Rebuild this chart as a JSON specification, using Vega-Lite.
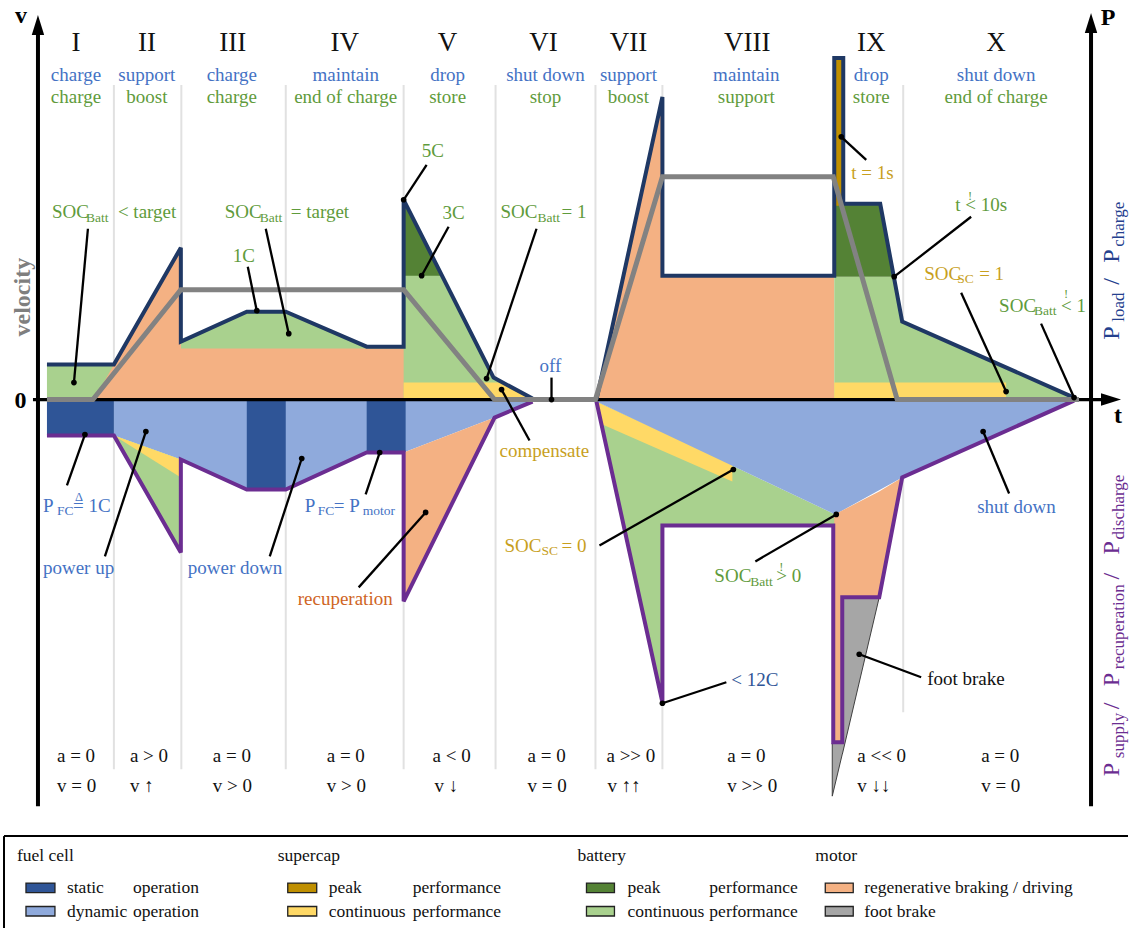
{
  "$schema": "https://vega.github.io/schema/vega-lite/v6.json",
  "width": 1129,
  "height": 929,
  "autosize": {"type": "fit", "contains": "padding"},
  "padding": 0,
  "background": "white",
  "config": {"view": {"stroke": null}, "font": "Liberation Serif", "text": {"font": "Liberation Serif"}},
  "datasets": {
    "fills": [
      {"id": "f01", "part": "batt_c", "t": 0.9, "p": 3.5, "p2": 0},
      {"id": "f01", "part": "batt_c", "t": 7.6, "p": 3.5, "p2": 0},
      {"id": "f02", "part": "batt_c", "t": 14.3, "p": 5.8, "p2": 4.8},
      {"id": "f02", "part": "batt_c", "t": 20.9, "p": 8.8, "p2": 4.8},
      {"id": "f02", "part": "batt_c", "t": 24.8, "p": 8.8, "p2": 4.8},
      {"id": "f02", "part": "batt_c", "t": 32.9, "p": 5.3, "p2": 4.8},
      {"id": "f02", "part": "batt_c", "t": 36.6, "p": 5.3, "p2": 4.8},
      {"id": "f03", "part": "motor", "t": 5.6, "p": 0, "p2": 0},
      {"id": "f03", "part": "motor", "t": 14.3, "p": 15.2, "p2": 0},
      {"id": "f03", "part": "motor", "t": 14.31, "p": 5.1, "p2": 0},
      {"id": "f03", "part": "motor", "t": 36.7, "p": 5.1, "p2": 0},
      {"id": "f04", "part": "batt_c", "t": 36.6, "p": 20.0, "p2": 0},
      {"id": "f04", "part": "batt_c", "t": 45.6, "p": 2.2, "p2": 0},
      {"id": "f04", "part": "batt_c", "t": 49.5, "p": 0, "p2": 0},
      {"id": "f05", "part": "sc_c", "t": 36.6, "p": 1.7, "p2": 0},
      {"id": "f05", "part": "sc_c", "t": 46.5, "p": 1.7, "p2": 0},
      {"id": "f05", "part": "sc_c", "t": 49.5, "p": 0, "p2": 0},
      {"id": "f06", "part": "batt_p", "t": 36.6, "p": 20.0, "p2": 12.4},
      {"id": "f06", "part": "batt_p", "t": 40.4, "p": 12.4, "p2": 12.4},
      {"id": "f07", "part": "motor", "t": 55.9, "p": 0, "p2": 0},
      {"id": "f07", "part": "motor", "t": 62.5, "p": 30.3, "p2": 0},
      {"id": "f07", "part": "motor", "t": 62.51, "p": 12.4, "p2": 0},
      {"id": "f07", "part": "motor", "t": 79.7, "p": 12.4, "p2": 0},
      {"id": "f08", "part": "batt_c", "t": 79.7, "p": 12.3, "p2": 0},
      {"id": "f08", "part": "batt_c", "t": 85.7, "p": 12.3, "p2": 0},
      {"id": "f08", "part": "batt_c", "t": 86.5, "p": 7.8, "p2": 0},
      {"id": "f08", "part": "batt_c", "t": 103.7, "p": 0.1, "p2": 0},
      {"id": "f09", "part": "sc_c", "t": 79.7, "p": 1.7, "p2": 0},
      {"id": "f09", "part": "sc_c", "t": 96.9, "p": 1.7, "p2": 0},
      {"id": "f10", "part": "batt_p", "t": 79.7, "p": 19.6, "p2": 12.3},
      {"id": "f10", "part": "batt_p", "t": 84.3, "p": 19.6, "p2": 12.3},
      {"id": "f10", "part": "batt_p", "t": 85.7, "p": 12.3, "p2": 12.3},
      {"id": "f11", "part": "sc_p", "t": 79.7, "p": 34.2, "p2": 19.4},
      {"id": "f11", "part": "sc_p", "t": 80.6, "p": 34.2, "p2": 19.4},
      {"id": "f12", "part": "fc_dyn", "t": 7.6, "p": -3.6, "p2": 0},
      {"id": "f12", "part": "fc_dyn", "t": 14.3, "p": -6.0, "p2": 0},
      {"id": "f12", "part": "fc_dyn", "t": 20.9, "p": -9.0, "p2": 0},
      {"id": "f12", "part": "fc_dyn", "t": 24.8, "p": -9.0, "p2": 0},
      {"id": "f12", "part": "fc_dyn", "t": 32.9, "p": -5.3, "p2": 0},
      {"id": "f12", "part": "fc_dyn", "t": 36.6, "p": -5.3, "p2": 0},
      {"id": "f12", "part": "fc_dyn", "t": 45.7, "p": -1.8, "p2": 0},
      {"id": "f12", "part": "fc_dyn", "t": 49.5, "p": -0.2, "p2": 0},
      {"id": "f13", "part": "fc_stat", "t": 0.9, "p": -3.6, "p2": 0},
      {"id": "f13", "part": "fc_stat", "t": 7.6, "p": -3.6, "p2": 0},
      {"id": "f14", "part": "fc_stat", "t": 20.9, "p": -9.0, "p2": 0},
      {"id": "f14", "part": "fc_stat", "t": 24.8, "p": -9.0, "p2": 0},
      {"id": "f15", "part": "fc_stat", "t": 32.9, "p": -5.3, "p2": 0},
      {"id": "f15", "part": "fc_stat", "t": 36.8, "p": -5.3, "p2": 0},
      {"id": "f16", "part": "batt_c", "t": 7.6, "p": -3.6, "p2": -3.6},
      {"id": "f16", "part": "batt_c", "t": 14.3, "p": -6.0, "p2": -15.3},
      {"id": "f17", "part": "sc_c", "t": 7.6, "p": -3.6, "p2": -3.6},
      {"id": "f17", "part": "sc_c", "t": 14.3, "p": -6.0, "p2": -7.8},
      {"id": "f18", "part": "motor", "t": 36.6, "p": -5.3, "p2": -20.2},
      {"id": "f18", "part": "motor", "t": 45.7, "p": -1.8, "p2": -1.8},
      {"id": "f19", "part": "batt_c", "t": 55.9, "p": -0.2, "p2": -0.2},
      {"id": "f19", "part": "batt_c", "t": 62.5, "p": -3.3, "p2": -30.3},
      {"id": "f19", "part": "batt_c", "t": 62.51, "p": -3.3, "p2": -12.6},
      {"id": "f19", "part": "batt_c", "t": 79.8, "p": -11.5, "p2": -12.6},
      {"id": "f20", "part": "sc_c", "t": 55.9, "p": -0.2, "p2": -0.2},
      {"id": "f20", "part": "sc_c", "t": 56.5, "p": -0.5, "p2": -2.5},
      {"id": "f20", "part": "sc_c", "t": 69.5, "p": -6.4, "p2": -8.2},
      {"id": "f21", "part": "fc_dyn", "t": 55.9, "p": 0, "p2": -0.2},
      {"id": "f21", "part": "fc_dyn", "t": 79.8, "p": 0, "p2": -11.5},
      {"id": "f21", "part": "fc_dyn", "t": 86.5, "p": 0, "p2": -7.8},
      {"id": "f21", "part": "fc_dyn", "t": 103.7, "p": 0, "p2": -0.1},
      {"id": "f22", "part": "motor", "t": 79.7, "p": -11.5, "p2": -34.3},
      {"id": "f22", "part": "motor", "t": 80.5, "p": -11.1, "p2": -34.3},
      {"id": "f22", "part": "motor", "t": 80.51, "p": -11.1, "p2": -19.8},
      {"id": "f22", "part": "motor", "t": 84.2, "p": -9.2, "p2": -19.8},
      {"id": "f22", "part": "motor", "t": 86.5, "p": -7.8, "p2": -7.8}
    ],
    "brake": [
      {"t": 79.5, "p": -34.4, "p2": -39.7},
      {"t": 80.5, "p": -34.4, "p2": -35.5},
      {"t": 80.51, "p": -19.8, "p2": -35.5},
      {"t": 84.2, "p": -19.8, "p2": -19.8}
    ],
    "outlines": [
      {"seg": "load1", "i": 1, "t": 0.9, "p": 3.5},
      {"seg": "load1", "i": 2, "t": 7.6, "p": 3.5},
      {"seg": "load1", "i": 3, "t": 14.3, "p": 15.2},
      {"seg": "load1", "i": 4, "t": 14.3, "p": 5.8},
      {"seg": "load1", "i": 5, "t": 20.9, "p": 8.8},
      {"seg": "load1", "i": 6, "t": 24.8, "p": 8.8},
      {"seg": "load1", "i": 7, "t": 32.9, "p": 5.3},
      {"seg": "load1", "i": 8, "t": 36.6, "p": 5.3},
      {"seg": "load1", "i": 9, "t": 36.6, "p": 20.0},
      {"seg": "load1", "i": 10, "t": 45.6, "p": 2.2},
      {"seg": "load1", "i": 11, "t": 49.5, "p": 0.1},
      {"seg": "load2", "i": 1, "t": 55.9, "p": 0},
      {"seg": "load2", "i": 2, "t": 62.5, "p": 30.3},
      {"seg": "load2", "i": 3, "t": 62.5, "p": 12.4},
      {"seg": "load2", "i": 4, "t": 79.7, "p": 12.4},
      {"seg": "load2", "i": 5, "t": 79.7, "p": 34.2},
      {"seg": "load2", "i": 6, "t": 80.6, "p": 34.2},
      {"seg": "load2", "i": 7, "t": 80.6, "p": 19.6},
      {"seg": "load2", "i": 8, "t": 84.3, "p": 19.6},
      {"seg": "load2", "i": 9, "t": 86.5, "p": 7.8},
      {"seg": "load2", "i": 10, "t": 103.7, "p": 0.2},
      {"seg": "supply1", "i": 1, "t": 0.9, "p": -3.6},
      {"seg": "supply1", "i": 2, "t": 7.6, "p": -3.6},
      {"seg": "supply1", "i": 3, "t": 14.3, "p": -15.3},
      {"seg": "supply1", "i": 4, "t": 14.3, "p": -6.0},
      {"seg": "supply1", "i": 5, "t": 20.9, "p": -9.0},
      {"seg": "supply1", "i": 6, "t": 24.8, "p": -9.0},
      {"seg": "supply1", "i": 7, "t": 32.9, "p": -5.3},
      {"seg": "supply1", "i": 8, "t": 36.6, "p": -5.3},
      {"seg": "supply1", "i": 9, "t": 36.6, "p": -20.2},
      {"seg": "supply1", "i": 10, "t": 45.7, "p": -1.8},
      {"seg": "supply1", "i": 11, "t": 49.5, "p": -0.2},
      {"seg": "supply2", "i": 1, "t": 55.9, "p": -0.2},
      {"seg": "supply2", "i": 2, "t": 62.5, "p": -30.3},
      {"seg": "supply2", "i": 3, "t": 62.5, "p": -12.6},
      {"seg": "supply2", "i": 4, "t": 79.6, "p": -12.6},
      {"seg": "supply2", "i": 5, "t": 79.6, "p": -34.3},
      {"seg": "supply2", "i": 6, "t": 80.5, "p": -34.3},
      {"seg": "supply2", "i": 7, "t": 80.5, "p": -19.8},
      {"seg": "supply2", "i": 8, "t": 84.2, "p": -19.8},
      {"seg": "supply2", "i": 9, "t": 86.5, "p": -7.8},
      {"seg": "supply2", "i": 10, "t": 103.7, "p": -0.1}
    ],
    "velocity": [
      {"i": 1, "t": 0.9, "p": 0},
      {"i": 2, "t": 5.5, "p": 0},
      {"i": 3, "t": 14.3, "p": 11.0},
      {"i": 4, "t": 36.6, "p": 11.0},
      {"i": 5, "t": 45.7, "p": 0},
      {"i": 6, "t": 55.8, "p": 0},
      {"i": 7, "t": 62.5, "p": 22.3},
      {"i": 8, "t": 79.6, "p": 22.3},
      {"i": 9, "t": 86.0, "p": 0},
      {"i": 10, "t": 104.2, "p": 0}
    ],
    "dividers": [
      {"t": 7.6, "p": 31.5, "p2": -37.0},
      {"t": 14.35, "p": 31.5, "p2": -37.0},
      {"t": 24.8, "p": 31.5, "p2": -37.0},
      {"t": 36.6, "p": 31.5, "p2": -37.0},
      {"t": 45.8, "p": 31.5, "p2": -37.0},
      {"t": 55.8, "p": 31.5, "p2": -37.0},
      {"t": 62.5, "p": 31.5, "p2": -37.0},
      {"t": 86.6, "p": 31.5, "p2": -31.3}
    ],
    "rules": [
      {"kind": "axis", "t": 0, "p": 36.6, "t2": 0, "p2": -40.7},
      {"kind": "axis", "t": 105.4, "p": 36.8, "t2": 105.4, "p2": -40.7},
      {"kind": "zero", "t": -0.5, "p": 0, "t2": 106.8, "p2": 0},
      {"kind": "box", "t": -3.4, "p": -43.7, "t2": 109.1, "p2": -43.7},
      {"kind": "box", "t": -3.4, "p": -43.7, "t2": -3.4, "p2": -52.9}
    ],
    "arrows": [
      {"dir": "up", "t": 0, "p": 37.5},
      {"dir": "up", "t": 105.4, "p": 37.7},
      {"dir": "right", "t": 107.4, "p": 0}
    ],
    "leaders": [
      {"id": "L01", "i": 0, "t": 5.0, "p": 17.1}, {"id": "L01", "i": 1, "t": 3.6, "p": 1.7},
      {"id": "L02", "i": 0, "t": 22.8, "p": 17.1}, {"id": "L02", "i": 1, "t": 25.1, "p": 6.6},
      {"id": "L03", "i": 0, "t": 21.0, "p": 13.3}, {"id": "L03", "i": 1, "t": 21.9, "p": 8.9},
      {"id": "L04", "i": 0, "t": 38.9, "p": 23.5}, {"id": "L04", "i": 1, "t": 36.6, "p": 20.0},
      {"id": "L05", "i": 0, "t": 41.1, "p": 17.3}, {"id": "L05", "i": 1, "t": 38.4, "p": 12.4},
      {"id": "L06", "i": 0, "t": 49.9, "p": 17.1}, {"id": "L06", "i": 1, "t": 44.9, "p": 2.1},
      {"id": "L07", "i": 0, "t": 51.4, "p": 2.2}, {"id": "L07", "i": 1, "t": 51.4, "p": 0},
      {"id": "L08", "i": 0, "t": 49.2, "p": -4.1}, {"id": "L08", "i": 1, "t": 46.4, "p": 1.0},
      {"id": "L09", "i": 0, "t": 82.9, "p": 24.0}, {"id": "L09", "i": 1, "t": 80.4, "p": 26.3},
      {"id": "L10", "i": 0, "t": 93.4, "p": 18.3}, {"id": "L10", "i": 1, "t": 85.7, "p": 12.3},
      {"id": "L11", "i": 0, "t": 92.4, "p": 10.7}, {"id": "L11", "i": 1, "t": 96.9, "p": 0.8},
      {"id": "L12", "i": 0, "t": 100.4, "p": 7.6}, {"id": "L12", "i": 1, "t": 103.7, "p": 0.2},
      {"id": "L13", "i": 0, "t": 2.9, "p": -8.6}, {"id": "L13", "i": 1, "t": 4.7, "p": -3.5},
      {"id": "L14", "i": 0, "t": 6.7, "p": -15.7}, {"id": "L14", "i": 1, "t": 10.8, "p": -3.2},
      {"id": "L15", "i": 0, "t": 23.2, "p": -15.7}, {"id": "L15", "i": 1, "t": 26.4, "p": -5.9},
      {"id": "L16", "i": 0, "t": 32.8, "p": -9.5}, {"id": "L16", "i": 1, "t": 34.2, "p": -5.3},
      {"id": "L17", "i": 0, "t": 32.1, "p": -18.8}, {"id": "L17", "i": 1, "t": 38.8, "p": -11.3},
      {"id": "L18", "i": 0, "t": 56.2, "p": -14.6}, {"id": "L18", "i": 1, "t": 69.6, "p": -7.0},
      {"id": "L19", "i": 0, "t": 68.9, "p": -28.3}, {"id": "L19", "i": 1, "t": 62.5, "p": -30.4},
      {"id": "L20", "i": 0, "t": 71.8, "p": -16.2}, {"id": "L20", "i": 1, "t": 79.9, "p": -11.5},
      {"id": "L21", "i": 0, "t": 88.4, "p": -27.8}, {"id": "L21", "i": 1, "t": 82.2, "p": -25.5},
      {"id": "L22", "i": 0, "t": 97.2, "p": -9.4}, {"id": "L22", "i": 1, "t": 94.6, "p": -3.2}
    ],
    "swatches": [
      {"part": "fc_stat", "t": -1.2, "t2": 1.7, "p": -48.4, "p2": -49.35},
      {"part": "fc_dyn", "t": -1.2, "t2": 1.7, "p": -50.75, "p2": -51.7},
      {"part": "sc_p", "t": 25.0, "t2": 27.9, "p": -48.4, "p2": -49.35},
      {"part": "sc_c", "t": 25.0, "t2": 27.9, "p": -50.75, "p2": -51.7},
      {"part": "batt_p", "t": 54.9, "t2": 57.7, "p": -48.4, "p2": -49.35},
      {"part": "batt_c", "t": 54.9, "t2": 57.7, "p": -50.75, "p2": -51.7},
      {"part": "motor", "t": 78.8, "t2": 81.6, "p": -48.4, "p2": -49.35},
      {"part": "brake", "t": 78.8, "t2": 81.6, "p": -50.75, "p2": -51.7}
    ],
    "labels": [
      {"kind": "roman", "tone": "black", "text": "I", "t": 3.8, "p": 34.9},
      {"kind": "roman", "tone": "black", "text": "II", "t": 10.9, "p": 34.9},
      {"kind": "roman", "tone": "black", "text": "III", "t": 19.5, "p": 34.9},
      {"kind": "roman", "tone": "black", "text": "IV", "t": 30.7, "p": 34.9},
      {"kind": "roman", "tone": "black", "text": "V", "t": 41.0, "p": 34.9},
      {"kind": "roman", "tone": "black", "text": "VI", "t": 50.6, "p": 34.9},
      {"kind": "roman", "tone": "black", "text": "VII", "t": 59.1, "p": 34.9},
      {"kind": "roman", "tone": "black", "text": "VIII", "t": 71.0, "p": 34.9},
      {"kind": "roman", "tone": "black", "text": "IX", "t": 83.4, "p": 34.9},
      {"kind": "roman", "tone": "black", "text": "X", "t": 95.9, "p": 34.9},

      {"kind": "head", "tone": "blue", "text": "charge", "t": 3.8, "p": 31.9},
      {"kind": "head", "tone": "blue", "text": "support", "t": 10.9, "p": 31.9},
      {"kind": "head", "tone": "blue", "text": "charge", "t": 19.4, "p": 31.9},
      {"kind": "head", "tone": "blue", "text": "maintain", "t": 30.8, "p": 31.9},
      {"kind": "head", "tone": "blue", "text": "drop", "t": 41.0, "p": 31.9},
      {"kind": "head", "tone": "blue", "text": "shut down", "t": 50.8, "p": 31.9},
      {"kind": "head", "tone": "blue", "text": "support", "t": 59.1, "p": 31.9},
      {"kind": "head", "tone": "blue", "text": "maintain", "t": 70.9, "p": 31.9},
      {"kind": "head", "tone": "blue", "text": "drop", "t": 83.4, "p": 31.9},
      {"kind": "head", "tone": "blue", "text": "shut down", "t": 95.9, "p": 31.9},
      {"kind": "head", "tone": "green", "text": "charge", "t": 3.8, "p": 29.7},
      {"kind": "head", "tone": "green", "text": "boost", "t": 10.9, "p": 29.7},
      {"kind": "head", "tone": "green", "text": "charge", "t": 19.4, "p": 29.7},
      {"kind": "head", "tone": "green", "text": "end of charge", "t": 30.8, "p": 29.7},
      {"kind": "head", "tone": "green", "text": "store", "t": 41.0, "p": 29.7},
      {"kind": "head", "tone": "green", "text": "stop", "t": 50.8, "p": 29.7},
      {"kind": "head", "tone": "green", "text": "boost", "t": 59.1, "p": 29.7},
      {"kind": "head", "tone": "green", "text": "support", "t": 70.9, "p": 29.7},
      {"kind": "head", "tone": "green", "text": "store", "t": 83.4, "p": 29.7},
      {"kind": "head", "tone": "green", "text": "end of charge", "t": 95.9, "p": 29.7},

      {"kind": "cond", "tone": "black", "text": "a = 0", "t": 1.9, "p": -36.3},
      {"kind": "cond", "tone": "black", "text": "a > 0", "t": 9.2, "p": -36.3},
      {"kind": "cond", "tone": "black", "text": "a = 0", "t": 17.5, "p": -36.3},
      {"kind": "cond", "tone": "black", "text": "a = 0", "t": 28.9, "p": -36.3},
      {"kind": "cond", "tone": "black", "text": "a < 0", "t": 39.5, "p": -36.3},
      {"kind": "cond", "tone": "black", "text": "a = 0", "t": 49.0, "p": -36.3},
      {"kind": "cond", "tone": "black", "text": "a >> 0", "t": 56.9, "p": -36.3},
      {"kind": "cond", "tone": "black", "text": "a  =  0", "t": 69.0, "p": -36.3},
      {"kind": "cond", "tone": "black", "text": "a << 0", "t": 82.0, "p": -36.3},
      {"kind": "cond", "tone": "black", "text": "a = 0", "t": 94.4, "p": -36.3},
      {"kind": "cond", "tone": "black", "text": "v = 0", "t": 1.9, "p": -39.3},
      {"kind": "cond", "tone": "black", "text": "v ↑", "t": 9.2, "p": -39.3},
      {"kind": "cond", "tone": "black", "text": "v > 0", "t": 17.5, "p": -39.3},
      {"kind": "cond", "tone": "black", "text": "v > 0", "t": 28.9, "p": -39.3},
      {"kind": "cond", "tone": "black", "text": "v ↓", "t": 39.7, "p": -39.3},
      {"kind": "cond", "tone": "black", "text": "v = 0", "t": 49.0, "p": -39.3},
      {"kind": "cond", "tone": "black", "text": "v ↑↑", "t": 57.0, "p": -39.3},
      {"kind": "cond", "tone": "black", "text": "v >> 0", "t": 69.0, "p": -39.3},
      {"kind": "cond", "tone": "black", "text": "v ↓↓", "t": 82.0, "p": -39.3},
      {"kind": "cond", "tone": "black", "text": "v = 0", "t": 94.4, "p": -39.3},

      {"kind": "ann", "tone": "green", "text": "SOC", "t": 1.4, "p": 18.2},
      {"kind": "sub", "tone": "green", "text": "Batt", "t": 4.8, "p": 17.8},
      {"kind": "ann", "tone": "green", "text": "< target", "t": 8.0, "p": 18.2},
      {"kind": "ann", "tone": "green", "text": "SOC", "t": 18.7, "p": 18.2},
      {"kind": "sub", "tone": "green", "text": "Batt", "t": 22.2, "p": 17.8},
      {"kind": "ann", "tone": "green", "text": "= target", "t": 25.3, "p": 18.2},
      {"kind": "ann", "tone": "green", "text": "1C", "t": 19.5, "p": 13.8},
      {"kind": "ann", "tone": "green", "text": "5C", "t": 38.4, "p": 24.3},
      {"kind": "ann", "tone": "green", "text": "3C", "t": 40.5, "p": 18.1},
      {"kind": "ann", "tone": "green", "text": "SOC", "t": 46.3, "p": 18.2},
      {"kind": "sub", "tone": "green", "text": "Batt", "t": 50.0, "p": 17.8},
      {"kind": "ann", "tone": "green", "text": "= 1", "t": 52.4, "p": 18.2},
      {"kind": "ann", "tone": "blue", "text": "off", "t": 50.2, "p": 2.8},
      {"kind": "ann", "tone": "gold", "text": "compensate", "t": 46.2, "p": -5.7},
      {"kind": "ann", "tone": "gold", "text": "t = 1s", "t": 81.4, "p": 22.1},
      {"kind": "ann", "tone": "green", "text": "t < 10s", "t": 91.8, "p": 18.9},
      {"kind": "bang", "tone": "green", "text": "!", "t": 93.3, "p": 20.0},
      {"kind": "ann", "tone": "gold", "text": "SOC", "t": 88.7, "p": 12.0},
      {"kind": "sub", "tone": "gold", "text": "SC", "t": 92.0, "p": 11.7},
      {"kind": "ann", "tone": "gold", "text": "= 1", "t": 94.2, "p": 12.0},
      {"kind": "ann", "tone": "green", "text": "SOC", "t": 96.2, "p": 8.8},
      {"kind": "sub", "tone": "green", "text": "Batt", "t": 99.7, "p": 8.5},
      {"kind": "ann", "tone": "green", "text": "< 1", "t": 102.4, "p": 8.8},
      {"kind": "bang", "tone": "green", "text": "!", "t": 102.9, "p": 10.2},
      {"kind": "ann", "tone": "blue", "text": "P", "t": 0.5, "p": -11.3},
      {"kind": "sub", "tone": "blue", "text": "FC", "t": 1.9, "p": -11.6},
      {"kind": "ann", "tone": "blue", "text": "= 1C", "t": 3.5, "p": -11.3},
      {"kind": "bang", "tone": "blue", "text": "Δ", "t": 4.1, "p": -10.2},
      {"kind": "ann", "tone": "blue", "text": "power up", "t": 0.5, "p": -17.5},
      {"kind": "ann", "tone": "blue", "text": "power down", "t": 15.0, "p": -17.5},
      {"kind": "ann", "tone": "blue", "text": "P", "t": 26.7, "p": -11.3},
      {"kind": "sub", "tone": "blue", "text": "FC", "t": 28.0, "p": -11.6},
      {"kind": "ann", "tone": "blue", "text": "= P", "t": 29.6, "p": -11.3},
      {"kind": "sub", "tone": "blue", "text": "motor", "t": 32.5, "p": -11.6},
      {"kind": "ann", "tone": "orange", "text": "recuperation", "t": 26.0, "p": -20.6},
      {"kind": "ann", "tone": "gold", "text": "SOC", "t": 46.7, "p": -15.3},
      {"kind": "sub", "tone": "gold", "text": "SC", "t": 50.4, "p": -15.6},
      {"kind": "ann", "tone": "gold", "text": "= 0", "t": 52.4, "p": -15.3},
      {"kind": "ann", "tone": "navy", "text": "< 12C", "t": 69.4, "p": -28.7},
      {"kind": "ann", "tone": "green", "text": "SOC", "t": 67.7, "p": -18.3},
      {"kind": "sub", "tone": "green", "text": "Batt", "t": 71.3, "p": -18.7},
      {"kind": "ann", "tone": "green", "text": "> 0", "t": 73.9, "p": -18.3},
      {"kind": "bang", "tone": "green", "text": "!", "t": 74.4, "p": -17.2},
      {"kind": "ann", "tone": "black", "text": "foot brake", "t": 89.0, "p": -28.6},
      {"kind": "ann", "tone": "blue", "text": "shut down", "t": 94.0, "p": -11.4},

      {"kind": "axisb", "tone": "black", "text": "v", "t": -1.7, "p": 37.7},
      {"kind": "axisb", "tone": "black", "text": "0", "t": -1.75, "p": -0.8},
      {"kind": "axisb", "tone": "black", "text": "P", "t": 107.1, "p": 37.5},
      {"kind": "axisb", "tone": "black", "text": "t", "t": 108.1, "p": -2.3},
      {"kind": "vel", "tone": "gray", "text": "velocity", "t": -0.8, "p": 10.25},

      {"kind": "rmain", "tone": "pnavy", "text": "P", "t": 108.2, "p": 6.0},
      {"kind": "rsub", "tone": "pnavy", "text": "load", "t": 108.7, "p": 7.8},
      {"kind": "rmain", "tone": "pnavy", "text": "/", "t": 108.2, "p": 11.5},
      {"kind": "rmain", "tone": "pnavy", "text": "P", "t": 108.2, "p": 13.7},
      {"kind": "rsub", "tone": "pnavy", "text": "charge", "t": 108.7, "p": 15.3},
      {"kind": "rmain", "tone": "purple", "text": "P", "t": 108.2, "p": -37.7},
      {"kind": "rsub", "tone": "purple", "text": "supply", "t": 108.7, "p": -35.9},
      {"kind": "rmain", "tone": "purple", "text": "/", "t": 108.2, "p": -31.0},
      {"kind": "rmain", "tone": "purple", "text": "P", "t": 108.2, "p": -28.7},
      {"kind": "rsub", "tone": "purple", "text": "recuperation", "t": 108.7, "p": -27.0},
      {"kind": "rmain", "tone": "purple", "text": "/", "t": 108.2, "p": -18.0},
      {"kind": "rmain", "tone": "purple", "text": "P", "t": 108.2, "p": -15.5},
      {"kind": "rsub", "tone": "purple", "text": "discharge", "t": 108.7, "p": -14.0},

      {"kind": "lg", "tone": "black", "text": "fuel cell", "t": -2.1, "p": -46.2},
      {"kind": "lg", "tone": "black", "text": "supercap", "t": 24.0, "p": -46.2},
      {"kind": "lg", "tone": "black", "text": "battery", "t": 54.0, "p": -46.2},
      {"kind": "lg", "tone": "black", "text": "motor", "t": 77.8, "p": -46.2},
      {"kind": "lg", "tone": "black", "text": "static", "t": 2.9, "p": -49.4},
      {"kind": "lg", "tone": "black", "text": "operation", "t": 9.5, "p": -49.4},
      {"kind": "lg", "tone": "black", "text": "dynamic", "t": 2.9, "p": -51.75},
      {"kind": "lg", "tone": "black", "text": "operation", "t": 9.5, "p": -51.75},
      {"kind": "lg", "tone": "black", "text": "peak", "t": 29.1, "p": -49.4},
      {"kind": "lg", "tone": "black", "text": "performance", "t": 37.5, "p": -49.4},
      {"kind": "lg", "tone": "black", "text": "continuous", "t": 29.1, "p": -51.75},
      {"kind": "lg", "tone": "black", "text": "performance", "t": 37.5, "p": -51.75},
      {"kind": "lg", "tone": "black", "text": "peak", "t": 59.0, "p": -49.4},
      {"kind": "lg", "tone": "black", "text": "performance", "t": 67.2, "p": -49.4},
      {"kind": "lg", "tone": "black", "text": "continuous", "t": 59.0, "p": -51.75},
      {"kind": "lg", "tone": "black", "text": "performance", "t": 67.2, "p": -51.75},
      {"kind": "lg", "tone": "black", "text": "regenerative braking / driving", "t": 82.7, "p": -49.4},
      {"kind": "lg", "tone": "black", "text": "foot brake", "t": 82.7, "p": -51.75}
    ]
  },
  "encoding": {
    "x": {"field": "t", "type": "quantitative", "axis": null, "scale": {"domain": [-3.8, 109.1], "nice": false, "zero": false}},
    "y": {"field": "p", "type": "quantitative", "axis": null, "stack": null, "scale": {"domain": [-52.9, 40.0], "nice": false, "zero": false}}
  },
  "resolve": {"scale": {"color": "independent"}},
  "layer": [
    {
      "data": {"name": "dividers"},
      "mark": {"type": "rule", "color": "#e1e1e1", "strokeWidth": 2},
      "encoding": {"y2": {"field": "p2"}}
    },
    {
      "data": {"name": "fills"},
      "mark": {"type": "area", "opacity": 1, "interpolate": "linear"},
      "encoding": {
        "y2": {"field": "p2"},
        "detail": {"field": "id"},
        "color": {"field": "part", "type": "nominal", "legend": null,
          "scale": {"domain": ["fc_stat", "fc_dyn", "sc_p", "sc_c", "batt_p", "batt_c", "motor", "brake"],
                    "range": ["#2f5597", "#8faadc", "#bf8f00", "#ffd966", "#548235", "#a9d18e", "#f4b183", "#a6a6a6"]}}
      }
    },
    {
      "data": {"name": "brake"},
      "mark": {"type": "area", "opacity": 1, "color": "#a6a6a6", "stroke": "#404040", "strokeWidth": 1},
      "encoding": {"y2": {"field": "p2"}}
    },
    {
      "data": {"name": "rules"},
      "transform": [{"filter": "datum.kind === 'zero'"}],
      "mark": {"type": "rule", "color": "#000000", "strokeWidth": 3.2},
      "encoding": {"x2": {"field": "t2"}, "y2": {"field": "p2"}}
    },
    {
      "data": {"name": "outlines"},
      "mark": {"type": "line", "strokeWidth": 4, "strokeJoin": "miter", "strokeMiterLimit": 3},
      "encoding": {
        "detail": {"field": "seg"},
        "order": {"field": "i", "type": "quantitative"},
        "color": {"field": "seg", "type": "nominal", "legend": null,
          "scale": {"domain": ["load1", "load2", "supply1", "supply2"], "range": ["#1f3864", "#1f3864", "#6b2d91", "#6b2d91"]}}
      }
    },
    {
      "data": {"name": "velocity"},
      "mark": {"type": "line", "color": "#828282", "strokeWidth": 5, "strokeJoin": "miter"},
      "encoding": {"order": {"field": "i", "type": "quantitative"}}
    },
    {
      "data": {"name": "rules"},
      "transform": [{"filter": "datum.kind === 'axis'"}],
      "mark": {"type": "rule", "color": "#000000", "strokeWidth": 4},
      "encoding": {"x2": {"field": "t2"}, "y2": {"field": "p2"}}
    },
    {
      "data": {"name": "arrows"},
      "transform": [{"filter": "datum.dir === 'up'"}],
      "mark": {"type": "point", "shape": "M0,-1L0.62,1L-0.62,1Z", "size": 400, "filled": true, "color": "#000000", "opacity": 1}
    },
    {
      "data": {"name": "arrows"},
      "transform": [{"filter": "datum.dir === 'right'"}],
      "mark": {"type": "point", "shape": "M1,0L-1,-0.62L-1,0.62Z", "size": 400, "filled": true, "color": "#000000", "opacity": 1}
    },
    {
      "data": {"name": "leaders"},
      "mark": {"type": "line", "color": "#000000", "strokeWidth": 2.3},
      "encoding": {
        "detail": {"field": "id"},
        "order": {"field": "i", "type": "quantitative"}
      }
    },
    {
      "data": {"name": "leaders"},
      "transform": [{"filter": "datum.i === 1"}],
      "mark": {"type": "point", "filled": true, "color": "#000000", "opacity": 1, "size": 32, "shape": "circle"}
    },
    {
      "data": {"name": "labels"},
      "transform": [{"filter": "datum.kind === 'roman'"}],
      "mark": {"type": "text", "font": "Liberation Serif", "fontSize": 27, "align": "center", "baseline": "alphabetic", "color": "#111111"},
      "encoding": {"text": {"field": "text"}}
    },
    {
      "data": {"name": "labels"},
      "transform": [{"filter": "datum.kind === 'head'"}],
      "mark": {"type": "text", "font": "Liberation Serif", "fontSize": 19, "align": "center", "baseline": "alphabetic"},
      "encoding": {
        "text": {"field": "text"},
        "color": {"field": "tone", "type": "nominal", "legend": null,
          "scale": {"domain": ["blue", "green", "gold", "orange", "navy", "black", "gray", "purple", "pnavy"],
                    "range": ["#4472c4", "#5f9b3c", "#c89f1e", "#cf651f", "#2f5597", "#111111", "#7f7f7f", "#6b2d91", "#24408e"]}}
      }
    },
    {
      "data": {"name": "labels"},
      "transform": [{"filter": "datum.kind === 'cond'"}],
      "mark": {"type": "text", "font": "Liberation Serif", "fontSize": 19, "align": "left", "baseline": "alphabetic", "color": "#111111"},
      "encoding": {"text": {"field": "text"}}
    },
    {
      "data": {"name": "labels"},
      "transform": [{"filter": "datum.kind === 'ann'"}],
      "mark": {"type": "text", "font": "Liberation Serif", "fontSize": 19, "align": "left", "baseline": "alphabetic"},
      "encoding": {
        "text": {"field": "text"},
        "color": {"field": "tone", "type": "nominal", "legend": null,
          "scale": {"domain": ["blue", "green", "gold", "orange", "navy", "black", "gray", "purple", "pnavy"],
                    "range": ["#4472c4", "#5f9b3c", "#c89f1e", "#cf651f", "#2f5597", "#111111", "#7f7f7f", "#6b2d91", "#24408e"]}}
      }
    },
    {
      "data": {"name": "labels"},
      "transform": [{"filter": "datum.kind === 'sub'"}],
      "mark": {"type": "text", "font": "Liberation Serif", "fontSize": 13.5, "align": "left", "baseline": "alphabetic"},
      "encoding": {
        "text": {"field": "text"},
        "color": {"field": "tone", "type": "nominal", "legend": null,
          "scale": {"domain": ["blue", "green", "gold", "orange", "navy", "black", "gray", "purple", "pnavy"],
                    "range": ["#4472c4", "#5f9b3c", "#c89f1e", "#cf651f", "#2f5597", "#111111", "#7f7f7f", "#6b2d91", "#24408e"]}}
      }
    },
    {
      "data": {"name": "labels"},
      "transform": [{"filter": "datum.kind === 'bang'"}],
      "mark": {"type": "text", "font": "Liberation Serif", "fontSize": 12.5, "align": "center", "baseline": "alphabetic"},
      "encoding": {
        "text": {"field": "text"},
        "color": {"field": "tone", "type": "nominal", "legend": null,
          "scale": {"domain": ["blue", "green", "gold", "orange", "navy", "black", "gray", "purple", "pnavy"],
                    "range": ["#4472c4", "#5f9b3c", "#c89f1e", "#cf651f", "#2f5597", "#111111", "#7f7f7f", "#6b2d91", "#24408e"]}}
      }
    },
    {
      "data": {"name": "labels"},
      "transform": [{"filter": "datum.kind === 'axisb'"}],
      "mark": {"type": "text", "font": "Liberation Serif", "fontSize": 24, "fontWeight": "bold", "align": "center", "baseline": "alphabetic", "color": "#000000"},
      "encoding": {"text": {"field": "text"}}
    },
    {
      "data": {"name": "labels"},
      "transform": [{"filter": "datum.kind === 'vel'"}],
      "mark": {"type": "text", "font": "Liberation Serif", "fontSize": 24, "fontWeight": "bold", "align": "center", "baseline": "alphabetic", "angle": 270, "color": "#7f7f7f"},
      "encoding": {"text": {"field": "text"}}
    },
    {
      "data": {"name": "labels"},
      "transform": [{"filter": "datum.kind === 'rmain'"}],
      "mark": {"type": "text", "font": "Liberation Serif", "fontSize": 24, "align": "left", "baseline": "alphabetic", "angle": 270},
      "encoding": {
        "text": {"field": "text"},
        "color": {"field": "tone", "type": "nominal", "legend": null,
          "scale": {"domain": ["purple", "pnavy"], "range": ["#6b2d91", "#24408e"]}}
      }
    },
    {
      "data": {"name": "labels"},
      "transform": [{"filter": "datum.kind === 'rsub'"}],
      "mark": {"type": "text", "font": "Liberation Serif", "fontSize": 17, "align": "left", "baseline": "alphabetic", "angle": 270},
      "encoding": {
        "text": {"field": "text"},
        "color": {"field": "tone", "type": "nominal", "legend": null,
          "scale": {"domain": ["purple", "pnavy"], "range": ["#6b2d91", "#24408e"]}}
      }
    },
    {
      "data": {"name": "rules"},
      "transform": [{"filter": "datum.kind === 'box'"}],
      "mark": {"type": "rule", "color": "#000000", "strokeWidth": 2},
      "encoding": {"x2": {"field": "t2"}, "y2": {"field": "p2"}}
    },
    {
      "data": {"name": "swatches"},
      "mark": {"type": "rect", "opacity": 1, "stroke": "#222222", "strokeWidth": 1.3},
      "encoding": {
        "x2": {"field": "t2"},
        "y2": {"field": "p2"},
        "color": {"field": "part", "type": "nominal", "legend": null,
          "scale": {"domain": ["fc_stat", "fc_dyn", "sc_p", "sc_c", "batt_p", "batt_c", "motor", "brake"],
                    "range": ["#2f5597", "#8faadc", "#bf8f00", "#ffd966", "#548235", "#a9d18e", "#f4b183", "#a6a6a6"]}}
      }
    },
    {
      "data": {"name": "labels"},
      "transform": [{"filter": "datum.kind === 'lg'"}],
      "mark": {"type": "text", "font": "Liberation Serif", "fontSize": 17.5, "align": "left", "baseline": "alphabetic", "color": "#111111"},
      "encoding": {"text": {"field": "text"}}
    }
  ]
}
